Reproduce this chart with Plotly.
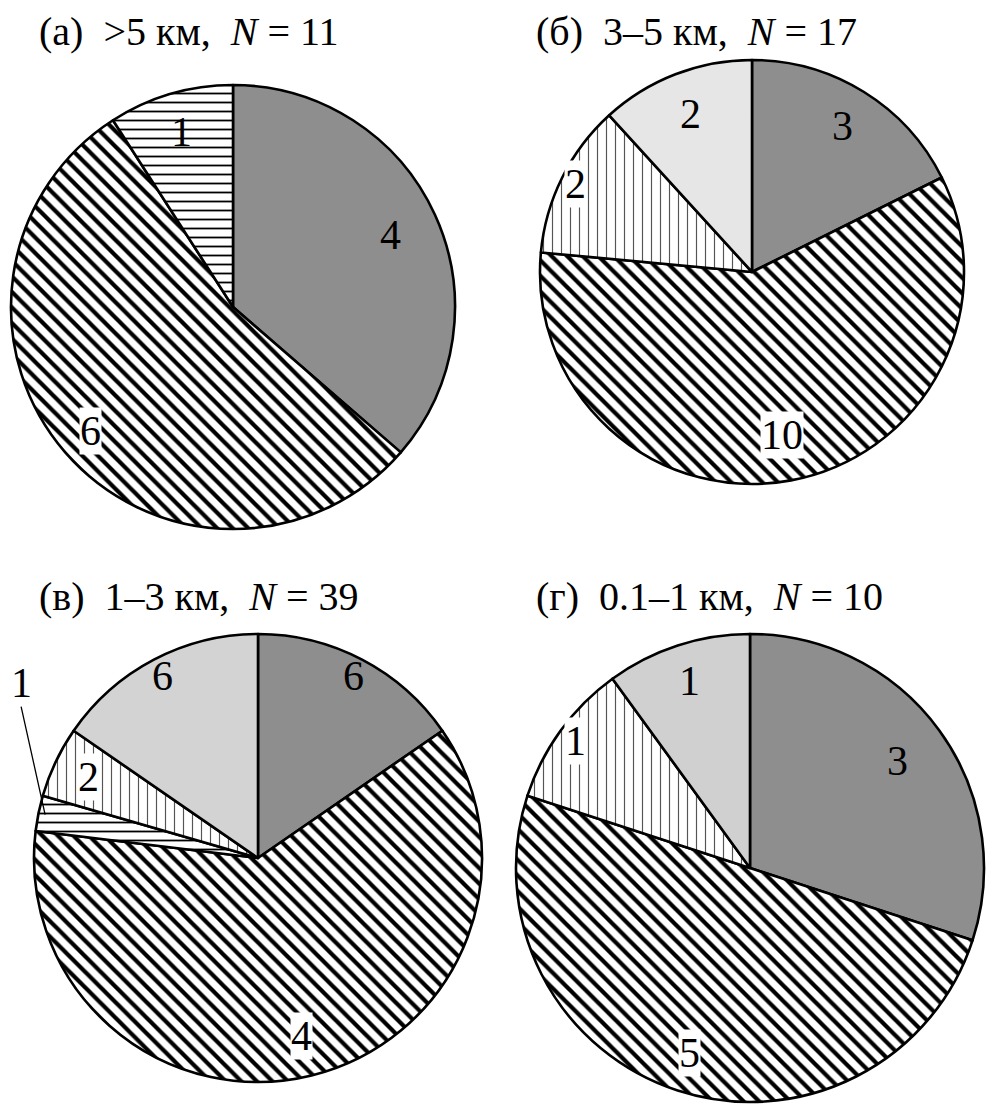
import math
import plotly.graph_objects as go

W, H = 998, 1107
OFF = 8  # page body margin offset

# ---- data ----
titles = [
    "(а)\u00a0 >5 км,\u00a0 <i>N</i> = 11",
    "(б)\u00a0 3–5 км,\u00a0 <i>N</i> = 17",
    "(в)\u00a0 1–3 км,\u00a0 <i>N</i> = 39",
    "(г)\u00a0 0.1–1 км,\u00a0 <i>N</i> = 10",
]

cats_a = ["dark", "hatch", "hlines"]
values_a = [4, 6, 1]
text_a = ["4", "6", "1"]

cats_b = ["dark", "hatch", "dashes", "light"]
values_b = [3, 10, 2, 2]
text_b = ["3", "10", "2", "2"]

cats_v = ["dark", "hatch", "hlines", "dashes", "light"]
values_v = [6, 24, 1, 2, 6]
text_v = ["6", "4", "1", "2", "6"]

cats_g = ["dark", "hatch", "dashes", "light"]
values_g = [3, 5, 1, 1]
text_g = ["3", "5", "1", "1"]

light_colors = ["#e4e4e4", "#e6e6e6", "#d3d3d3", "#d0d0d0"]

# label radial placement (fraction of radius), layout only
label_rad = [
    [0.78, 0.85, 0.82],
    [0.81, 0.78, 0.93, 0.80],
    [0.92, 0.82, 0.97, 0.84, 0.92],
    [0.78, 0.83, 0.92, 0.84],
]

# ---- styles ----
style = {
    "dark":   dict(color="#8e8e8e", shape="", size=8, sol=0.1, fg="black"),
    "hatch":  dict(color="white", shape="\\", size=11, sol=0.38, fg="black"),
    "hlines": dict(color="white", shape="-", size=9, sol=0.2, fg="black"),
    "dashes": dict(color="white", shape="|", size=9, sol=0.13, fg="#555555"),
    "light":  dict(color=None, shape="", size=8, sol=0.1, fg="black"),
}

# ---- layout helpers ----
def px2paper(x, y):
    return (x - OFF) / W, 1 - (y - OFF) / H

def dom(cx, cy, r):
    x0, y1 = px2paper(cx - r, cy - r)
    x1, y0 = px2paper(cx + r, cy + r)
    return dict(x=[x0, x1], y=[y0, y1])

geo = [(233, 307, 222), (752, 272, 212), (258, 858, 224), (750, 868, 234)]
title_pos = [(38, None), (535, None), (38, 596), (535, 596)]

fig = go.Figure()

all_cats = [cats_a, cats_b, cats_v, cats_g]
all_values = [values_a, values_b, values_v, values_g]
all_text = [text_a, text_b, text_v, text_g]

SERIF = "Liberation Serif, Times New Roman, serif"
LABEL_FONT = dict(family=SERIF, size=42, color="black")

for i in range(4):
    cats = all_cats[i]
    vals = all_values[i]
    txt = all_text[i]
    cx, cy, r = geo[i]
    colors = [style[c]["color"] or light_colors[i] for c in cats]
    fig.add_trace(go.Pie(
        labels=cats,
        values=vals,
        textinfo="none",
        sort=False,
        direction="clockwise",
        rotation=0,
        domain=dom(cx, cy, r),
        showlegend=False,
        hoverinfo="label+value",
        marker=dict(
            colors=colors,
            line=dict(color="black", width=2.6),
            pattern=dict(
                shape=[style[c]["shape"] for c in cats],
                size=[style[c]["size"] for c in cats],
                solidity=[style[c]["sol"] for c in cats],
                fgcolor=[style[c]["fg"] for c in cats],
                fillmode="replace",
            ),
        ),
    ))

    # value labels placed at the middle angle of each slice
    total = sum(vals)
    cum = 0
    for k, (c, v, t) in enumerate(zip(cats, vals, txt)):
        mid = (cum + v / 2) / total * 2 * math.pi
        cum += v
        f = label_rad[i][k]
        if i == 2 and c == "hlines":
            hx = cx + f * r * math.sin(mid)
            hy = cy - f * r * math.cos(mid)
            ax_, ay_ = px2paper(hx, hy)
            fig.add_annotation(
                x=ax_, y=ay_, xref="paper", yref="paper",
                text=t, showarrow=True, arrowhead=0, arrowwidth=1.3,
                arrowcolor="black", ax=-24, ay=-108, xanchor="center", yanchor="bottom",
                borderpad=0,
                font=LABEL_FONT,
            )
            continue
        lx = cx + f * r * math.sin(mid)
        ly = cy - f * r * math.cos(mid)
        px_, py_ = px2paper(lx, ly)
        fig.add_annotation(
            x=px_, y=py_, xref="paper", yref="paper",
            text=t, showarrow=False, xanchor="center", yanchor="middle",
            bgcolor="white" if c in ("hatch", "dashes") else "rgba(0,0,0,0)",
            borderpad=0,
            font=LABEL_FONT,
        )

for i, t in enumerate(titles):
    tx0, ty0 = title_pos[i]
    if ty0 is None:
        tx, _ = px2paper(tx0, 0)
        ty, yanchor = 1.0, "top"
    else:
        tx, ty = px2paper(tx0, ty0)
        yanchor = "middle"
    fig.add_annotation(
        text=t, xref="paper", yref="paper",
        x=tx, y=ty, xanchor="left", yanchor=yanchor,
        showarrow=False, borderpad=0,
        font=dict(family=SERIF, size=40, color="black"),
    )

fig.update_layout(
    width=W, height=H,
    margin=dict(l=0, r=0, t=0, b=0),
    paper_bgcolor="white",
    plot_bgcolor="white",
)

fig.write_html("out.html")
